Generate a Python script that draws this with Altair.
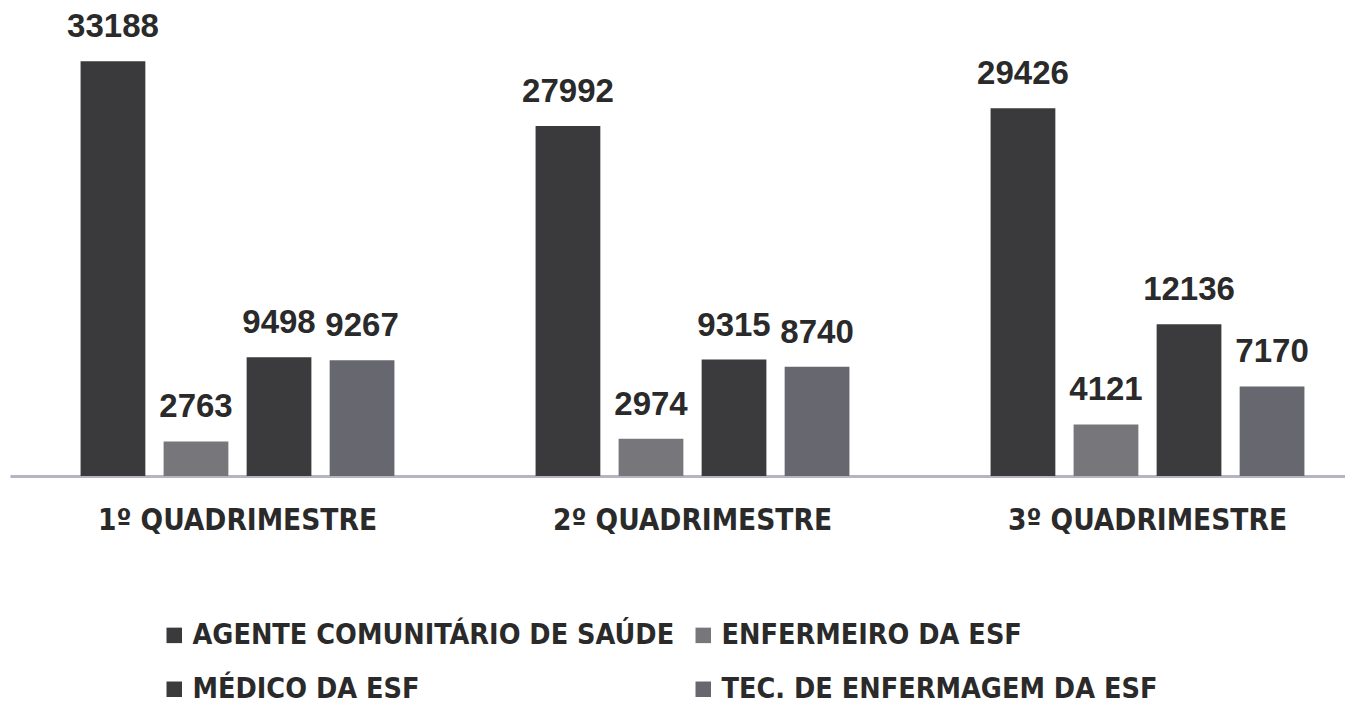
import altair as alt
import pandas as pd

quadrimestres = ["1º QUADRIMESTRE", "2º QUADRIMESTRE", "3º QUADRIMESTRE"]
categorias = ["AGENTE COMUNITÁRIO DE SAÚDE", "ENFERMEIRO DA ESF", "MÉDICO DA ESF", "TEC. DE ENFERMAGEM DA ESF"]
agente = [33188, 27992, 29426]
enfermeiro = [2763, 2974, 4121]
medico = [9498, 9315, 12136]
tecnico = [9267, 8740, 7170]
cores = ["#3a3a3c", "#77777b", "#3b3b3d", "#67676f"]

series = [agente, enfermeiro, medico, tecnico]
rows = []
for ci, cat in enumerate(categorias):
    for qi, q in enumerate(quadrimestres):
        rows.append({"quad": q, "cat": cat, "ordem": ci, "valor": series[ci][qi]})
df = pd.DataFrame(rows)

# legend fills column by column: order so rows read A, E / M, T
leg_order = [0, 2, 1, 3]
leg_domain = [categorias[i] for i in leg_order]
leg_range = [cores[i] for i in leg_order]

LBL_FONT = "DejaVu Sans Condensed"

base = alt.Chart(df).encode(
    x=alt.X("quad:N", sort=quadrimestres,
            scale=alt.Scale(range=[0, 1365], paddingInner=0, paddingOuter=0),
            axis=alt.Axis(title=None, labelAngle=0, ticks=False, domainColor="#b4b4c4",
                          domainWidth=3, labelFont=LBL_FONT, labelFontWeight="bold",
                          labelFontSize=29.5, labelColor="#2a2a2a", labelPadding=30,
                          labelLimit=0)),
    xOffset=alt.XOffset("cat:N", sort=categorias,
                        scale=alt.Scale(paddingInner=0.22, paddingOuter=0.85)),
    y=alt.Y("valor:Q", scale=alt.Scale(domain=[0, 36000]), axis=None),
)

bars = base.mark_bar().encode(
    color=alt.Color("cat:N",
                    scale=alt.Scale(domain=leg_domain, range=leg_range),
                    legend=alt.Legend(title=None, orient="none", legendX=150, legendY=595,
                                      columns=2, symbolType="square", symbolSize=240,
                                      symbolStrokeWidth=0, labelFont=LBL_FONT,
                                      labelFontWeight="bold", labelFontSize=28.5,
                                      labelColor="#2a2a2a", rowPadding=25,
                                      columnPadding=14, labelLimit=0, symbolOffset=0))
)

texts = base.mark_text(dy=-34, font="Liberation Sans", fontWeight="bold",
                       fontSize=33, color="#2a2a2a").encode(text=alt.Text("valor:Q", format="d"))

chart = (bars + texts).properties(
    width=1335, height=450, background="white",
    autosize=alt.AutoSizeParams(type="none"),
    padding={"left": 2, "top": 18, "right": 0, "bottom": 228},
).configure_view(strokeWidth=0, stroke=None)

chart.save("out.html", embed_options={"renderer": "svg", "actions": False})
